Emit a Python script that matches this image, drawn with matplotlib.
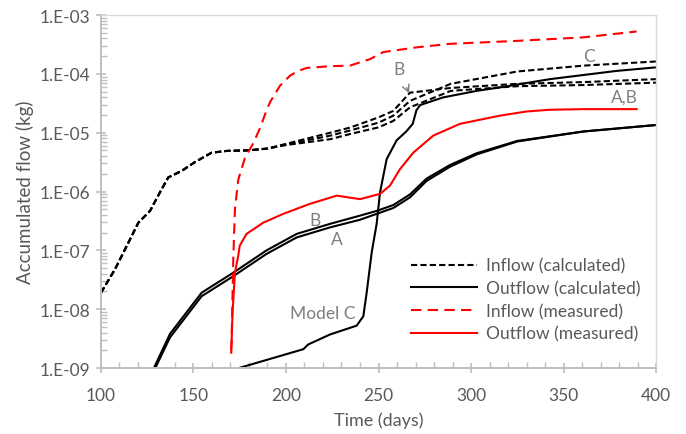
import numpy as np
import matplotlib
matplotlib.use("Agg")
import matplotlib.pyplot as plt
from matplotlib.ticker import FixedLocator, MultipleLocator, FixedFormatter, NullFormatter

plt.rcParams["font.family"] = ["Lato", "DejaVu Sans"]

# values, stored as log10(kg)
shared_in_days = [100, 107.6, 114.8, 120.2, 126.5, 132.8, 136.4, 143.6, 150.8, 159.8, 168, 180, 190]
shared_in_log = [-7.72, -7.32, -6.87, -6.53, -6.33, -5.96, -5.76, -5.65, -5.50, -5.34, -5.31, -5.30, -5.27]

late_in_days = [200, 224, 235, 250, 258, 267, 289, 325, 361, 400]
inflow_A_log = [-5.21, -5.11, -5.02, -4.91, -4.80, -4.57, -4.29, -4.21, -4.19, -4.15]
inflow_B_log = [-5.19, -5.00, -4.91, -4.74, -4.63, -4.32, -4.24, -4.17, -4.14, -4.09]
inflow_C_log = [-5.20, -5.05, -4.96, -4.83, -4.71, -4.46, -4.17, -3.96, -3.86, -3.79]

out_AB_days = [128.6, 137.3, 154.4, 171.5, 189.5, 205.8, 223.8, 240, 249, 258, 267, 276, 288.6,
               303, 325, 360.7, 400]
outflow_A_log = [-9.05, -8.48, -7.78, -7.44, -7.06, -6.78, -6.61, -6.48, -6.38, -6.28, -6.10, -5.82,
                 -5.58, -5.37, -5.15, -4.98, -4.87]
outflow_B_log = [-9.00, -8.42, -7.72, -7.38, -7.00, -6.72, -6.55, -6.41, -6.33, -6.23, -6.05, -5.78,
                 -5.55, -5.35, -5.14, -4.98, -4.87]

out_C_days = [172.4, 209.4, 212, 223.8, 238.2, 241.8, 243.6, 246.3, 249, 250.8, 254.4, 259.8,
              265, 268.5, 270.5, 272.5, 285, 303, 315.7, 342.7, 378.7, 400]
outflow_C_log = [-9.02, -8.68, -8.60, -8.43, -8.28, -8.12, -7.72, -7.04, -6.55, -6.02, -5.45, -5.13,
                 -4.98, -4.85, -4.62, -4.53, -4.40, -4.29, -4.23, -4.09, -3.95, -3.89]

meas_out_days = [170.4, 171.1, 172.4, 174.2, 175, 178.7, 187.7, 198.5, 212.9, 227.4, 240, 250.8,
                 256.2, 261.6, 268.8, 279.6, 294, 315.7, 330, 342.7, 360.7, 389.5]
meas_out_log = [-8.74, -8.06, -7.38, -7.09, -6.92, -6.72, -6.53, -6.38, -6.21, -6.07, -6.13, -6.04,
                -5.90, -5.62, -5.34, -5.05, -4.85, -4.71, -4.64, -4.61, -4.60, -4.60]

meas_in_days = [170.3, 170.6, 171.5, 172.4, 174.2, 177.8, 182.3, 186, 189.5, 191.4, 196.8, 202.2,
                206.6, 211.2, 223.8, 234.6, 245.4, 252.6, 270.6, 288.6, 324.7, 360.7, 389.5]
meas_in_log = [-8.70, -8.57, -7.15, -6.30, -5.80, -5.43, -5.18, -4.92, -4.62, -4.48, -4.20, -4.03,
               -3.95, -3.90, -3.87, -3.86, -3.75, -3.63, -3.55, -3.49, -3.44, -3.38, -3.28]

y_exponents = [-9, -8, -7, -6, -5, -4, -3]
y_tick_labels = ["1.E-09", "1.E-08", "1.E-07", "1.E-06", "1.E-05", "1.E-04", "1.E-03"]

fig = plt.figure(figsize=(6.86, 4.35), dpi=100)
ax = fig.add_axes([0.1472, 0.1517, 0.8091, 0.8115])

black_dash = (0, (3, 1.5))
red_dash = (0, (5, 3))
lw = 1.5

for late in [inflow_A_log, inflow_B_log, inflow_C_log]:
    ax.plot(shared_in_days + late_in_days, 10 ** np.array(shared_in_log + late),
            color="black", linestyle=black_dash, linewidth=lw)
for vals in [outflow_A_log, outflow_B_log]:
    ax.plot(out_AB_days, 10 ** np.array(vals), color="black", linewidth=lw)
ax.plot(out_C_days, 10 ** np.array(outflow_C_log), color="black", linewidth=lw)
ax.plot(meas_in_days, 10 ** np.array(meas_in_log), color="red", linestyle=red_dash, linewidth=lw)
ax.plot(meas_out_days, 10 ** np.array(meas_out_log), color="red", linewidth=lw)

ax.set_yscale("log")
ax.set_xlim(100, 400)
ax.set_ylim(1e-9, 1e-3)

ax.xaxis.set_major_locator(MultipleLocator(50))
ax.xaxis.set_minor_locator(MultipleLocator(10))
major_y = [10.0 ** e for e in y_exponents]
minor_y = [m * 10.0 ** e for e in y_exponents[:-1] for m in range(2, 10)]
ax.yaxis.set_major_locator(FixedLocator(major_y))
ax.yaxis.set_major_formatter(FixedFormatter(y_tick_labels))
ax.yaxis.set_minor_locator(FixedLocator(minor_y))
ax.yaxis.set_minor_formatter(NullFormatter())

tick_grey = "#595959"
axis_grey = "#bfbfbf"
ax.tick_params(axis="both", which="major", direction="inout", length=7, width=1.2,
               color=axis_grey, labelcolor=tick_grey, labelsize=12.5)
ax.tick_params(axis="x", which="major", pad=10)
ax.tick_params(axis="y", which="major", pad=4)
ax.tick_params(axis="both", which="minor", direction="in", length=4, width=1,
               color=axis_grey)
for side in ["left", "bottom"]:
    ax.spines[side].set_color(axis_grey)
    ax.spines[side].set_linewidth(1.4)
for side in ["top", "right"]:
    ax.spines[side].set_color("#d9d9d9")
    ax.spines[side].set_linewidth(1)

ax.set_xlabel("Time (days)", color=tick_grey, fontsize=13, labelpad=6)
ax.set_ylabel("Accumulated flow (kg)", color=tick_grey, fontsize=13.5, labelpad=4)

# curve labels
lab_grey = "#7f7f7f"
ax.text(364, 10 ** -3.70, "C", color=lab_grey, fontsize=12.5, ha="center", va="center")
ax.text(383, 10 ** -4.38, "A,B", color=lab_grey, fontsize=12.5, ha="center", va="center")
ax.text(215.7, 10 ** -6.49, "B", color=lab_grey, fontsize=12.5, ha="center", va="center")
ax.text(227.6, 10 ** -6.81, "A", color=lab_grey, fontsize=12.5, ha="center", va="center")
ax.text(220, 10 ** -8.07, "Model C", color=lab_grey, fontsize=12.5, ha="center", va="center")
ax.annotate("B", xy=(266.5, 10 ** -4.33), xytext=(261, 10 ** -3.92),
            color=lab_grey, fontsize=12.5, ha="center", va="center",
            arrowprops=dict(arrowstyle="->", color=lab_grey, lw=1, shrinkA=6, shrinkB=0))

handles = [
    plt.Line2D([], [], color="black", linestyle=black_dash, linewidth=lw),
    plt.Line2D([], [], color="black", linewidth=lw),
    plt.Line2D([], [], color="red", linestyle=red_dash, linewidth=lw),
    plt.Line2D([], [], color="red", linewidth=lw),
]
labels = ["Inflow (calculated)", "Outflow (calculated)", "Inflow (measured)", "Outflow (measured)"]
leg = ax.legend(handles, labels, loc="lower right", bbox_to_anchor=(1.0, 0.03), frameon=False,
                fontsize=12.5, handlelength=3.8, handletextpad=0.5, labelspacing=0.38,
                labelcolor=tick_grey)

fig.savefig("out.png", dpi=100)
